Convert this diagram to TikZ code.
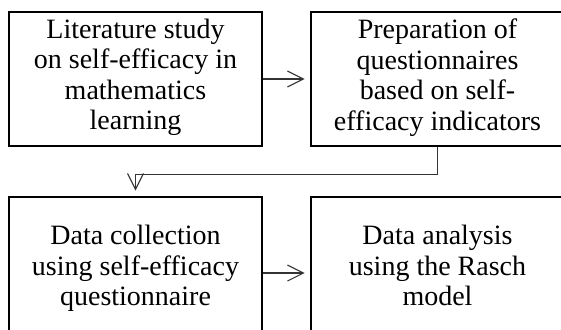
\documentclass[tikz,border=0pt]{standalone}
\usepackage{fontspec}
\setmainfont{Liberation Serif}
\usetikzlibrary{arrows.meta}
\tikzset{
  stepbox/.style={draw=black, line width=2.6pt, minimum width=253pt,
    align=center, inner sep=0pt, font=\fontsize{28}{30.5}\selectfont,
    execute at begin node=\strut, execute at end node=\strut},
  conn/.style={draw=black!80, line width=1.1pt,
    -{Straight Barb[length=16pt,width=16pt,line width=1.1pt]}, shorten >=5pt}
}
\begin{document}
\begin{tikzpicture}[x=1pt,y=-1pt]
  \useasboundingbox (0,0) rectangle (561,329);
  \clip (0,0) rectangle (561,329);
  % upper row
  \node[stepbox, minimum height=134pt] (b1) at (135.5,79)
    {Literature study\\on self-efficacy in\\mathematics\\learning};
  \node[stepbox, minimum height=134pt] (b2) at (437.5,79)
    {Preparation of\\questionnaires\\based on self-\\efficacy indicators};
  % lower row
  \node[stepbox, minimum height=146pt] (b3) at (135.5,270)
    {Data collection\\using self-efficacy\\questionnaire};
  \node[stepbox, minimum height=146pt] (b4) at (437.5,270)
    {Data analysis\\using the Rasch\\model};
  % connectors
  \draw[conn] (b1.east) -- (b2.west);
  \draw[conn] (b2.south) -- ++(0,27) -| (b3.north);
  \draw[conn] ([yshift=-3pt]b3.east) -- ([yshift=-3pt]b4.west);
\end{tikzpicture}
\end{document}
